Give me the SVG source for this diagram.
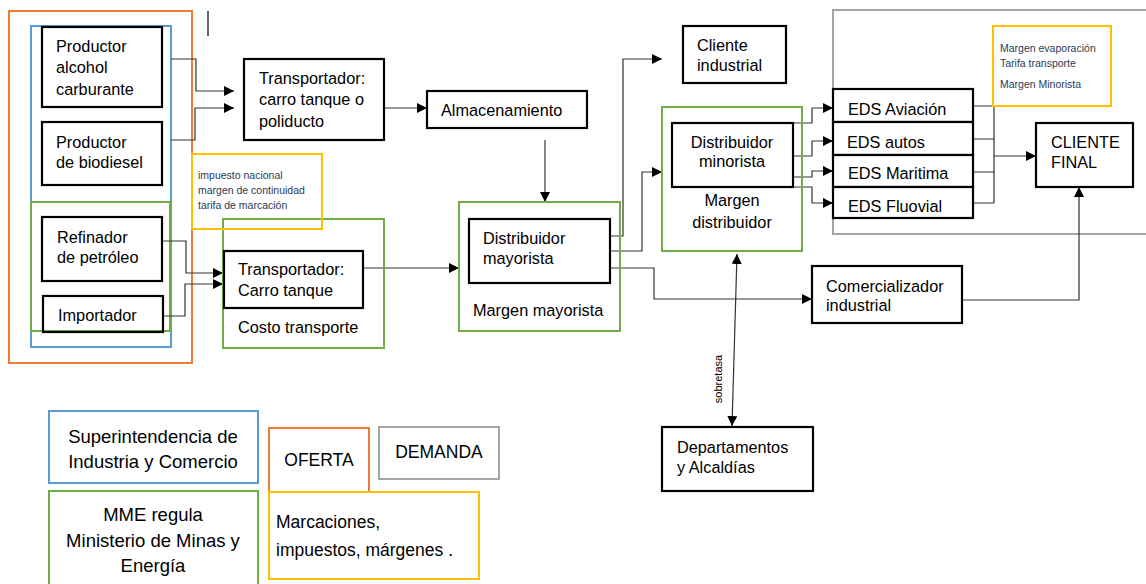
<svg xmlns="http://www.w3.org/2000/svg" width="1146" height="584" viewBox="0 0 1146 584">
<style>
.grp{fill:none;stroke-width:2}
.or{stroke:#ED7D31}.bl{stroke:#5B9BD5}.gr{stroke:#70AD47}.ye{stroke:#FFC000}.gy{stroke:#A5A5A5}
.node{fill:#fff;stroke:#000;stroke-width:2.2}
.nodeT{fill:none;stroke:#000;stroke-width:2.2}
.t{font-family:"Liberation Sans",Arial,sans-serif;font-size:16.3px;fill:#000}
.s{font-family:"Liberation Sans",Arial,sans-serif;font-size:10.5px;fill:#2b3a55}
.l{font-family:"Liberation Sans",Arial,sans-serif;font-size:18.5px;fill:#000}
.m{font-family:"Liberation Sans",Arial,sans-serif;font-size:17.5px;fill:#000}
.c{fill:none;stroke:#333;stroke-width:1.2}
</style>
<defs>
<marker id="ah" viewBox="0 0 10 10" refX="10" refY="5" markerWidth="10" markerHeight="10" markerUnits="userSpaceOnUse" orient="auto"><path d="M0,0 L10,5 L0,10 z" fill="#000"/></marker>
<marker id="ahs" viewBox="0 0 10 10" refX="10" refY="5" markerWidth="10" markerHeight="10" markerUnits="userSpaceOnUse" orient="auto-start-reverse"><path d="M0,0 L10,5 L0,10 z" fill="#000"/></marker>
</defs>
<rect width="1146" height="584" fill="#fff"/>

<!-- grouping frames -->
<g id="oferta-frame"><rect class="grp or" x="9" y="11" width="183" height="352"/></g>
<g id="sic-frame"><rect class="grp bl" x="31" y="26" width="140" height="321"/></g>
<g id="mme-frame-left"><rect class="grp gr" x="31" y="202" width="139" height="129"/></g>
<g id="demanda-frame"><rect class="grp gy" x="833" y="10" width="320" height="224"/></g>
<line x1="208" y1="11" x2="208" y2="36" stroke="#333" stroke-width="1.5"/>

<!-- connectors -->
<g id="connectors">
<path class="c" d="M171,59 H196 V91 H234" marker-end="url(#ah)"/>
<path class="c" d="M171,140 H195 V108 H234" marker-end="url(#ah)"/>
<path class="c" d="M162,241 H186 V273 H223" marker-end="url(#ah)"/>
<path class="c" d="M163,316 H185 V284 H223" marker-end="url(#ah)"/>
<path class="c" d="M384,108 H427" marker-end="url(#ah)"/>
<path class="c" d="M545,140 V202" marker-end="url(#ah)"/>
<path class="c" d="M363,268 H459" marker-end="url(#ah)"/>
<path class="c" d="M610,236 H623 V59 H662" marker-end="url(#ah)"/>
<path class="c" d="M610,251 H642 V172 H662" marker-end="url(#ah)"/>
<path class="c" d="M610,268 H654 V299 H812" marker-end="url(#ah)"/>
<path class="c" d="M793,123 H812 V108 H833" marker-end="url(#ah)"/>
<path class="c" d="M793,156 H812 V141 H833" marker-end="url(#ah)"/>
<path class="c" d="M793,177 H812 V171 H833" marker-end="url(#ah)"/>
<path class="c" d="M793,187 H812 V203 H833" marker-end="url(#ah)"/>
<path class="c" d="M973,106 H994 M973,139 H994 M973,172 H994 M973,203 H994 M994,106 V203"/>
<path class="c" d="M994,156 H1036" marker-end="url(#ah)"/>
<path class="c" d="M962,300 H1079 V187" marker-end="url(#ah)"/>
<path class="c" d="M737,254 L732,426" marker-start="url(#ahs)" marker-end="url(#ah)"/>
<text transform="translate(722,379) rotate(-90)" text-anchor="middle" style="font-family:'Liberation Sans',Arial,sans-serif;font-size:11px;fill:#000">sobretasa</text>
</g>

<!-- nodes -->
<g id="productor-alcohol"><rect class="nodeT" x="42" y="27" width="120" height="80"/>
<text class="t" x="56" y="52">Productor</text><text class="t" x="56" y="73">alcohol</text><text class="t" x="56" y="95">carburante</text></g>
<g id="productor-biodiesel"><rect class="nodeT" x="42" y="122" width="120" height="63"/>
<text class="t" x="56" y="148">Productor</text><text class="t" x="56" y="168">de biodiesel</text></g>
<g id="refinador"><rect class="nodeT" x="42" y="217" width="120" height="64"/>
<text class="t" x="57" y="243">Refinador</text><text class="t" x="57" y="263">de petróleo</text></g>
<g id="importador"><rect class="nodeT" x="43" y="296" width="120" height="36"/>
<text class="t" x="58" y="321">Importador</text></g>
<g id="transportador-poliducto"><rect class="node" x="244" y="59" width="140" height="81"/>
<text class="t" x="259" y="84">Transportador:</text><text class="t" x="259" y="105">carro tanque o</text><text class="t" x="259" y="127">poliducto</text></g>
<g id="costo-transporte"><rect class="grp gr" x="223" y="219" width="161" height="129"/>
<text class="t" x="238" y="333">Costo transporte</text></g>
<g id="nota-impuestos"><rect fill="#fff" class="grp ye" x="192" y="154" width="130" height="75"/>
<text class="s" x="198" y="179">impuesto nacional</text><text class="s" x="198" y="194">margen de continuidad</text><text class="s" x="198" y="209">tarifa de marcación</text></g>
<g id="transportador-carro"><rect class="node" x="224" y="251" width="139" height="57"/>
<text class="t" x="238" y="275">Transportador:</text><text class="t" x="238" y="296">Carro tanque</text></g>
<g id="almacenamiento"><rect class="node" x="427" y="91" width="160" height="37"/>
<text class="t" x="441" y="116">Almacenamiento</text></g>
<g id="margen-mayorista"><rect class="grp gr" x="459" y="202" width="161" height="129"/>
<text class="t" x="473" y="316">Margen mayorista</text></g>
<g id="distribuidor-mayorista"><rect class="node" x="469" y="219" width="141" height="64"/>
<text class="t" x="483" y="244">Distribuidor</text><text class="t" x="483" y="264">mayorista</text></g>
<g id="cliente-industrial"><rect class="node" x="683" y="26" width="103" height="57"/>
<text class="t" x="697" y="51">Cliente</text><text class="t" x="697" y="71">industrial</text></g>
<g id="margen-distribuidor"><rect class="grp gr" x="662" y="107" width="140" height="144"/>
<text class="t" x="732" y="206" text-anchor="middle">Margen</text><text class="t" x="732" y="228" text-anchor="middle">distribuidor</text></g>
<g id="distribuidor-minorista"><rect class="node" x="672" y="123" width="121" height="64"/>
<text class="t" x="732" y="148" text-anchor="middle">Distribuidor</text><text class="t" x="732" y="167" text-anchor="middle">minorista</text></g>
<g id="eds-aviacion"><rect class="node" x="833" y="89" width="140" height="33"/><text class="t" x="848" y="115">EDS Aviación</text></g>
<g id="eds-autos"><rect class="node" x="833" y="122" width="140" height="33"/><text class="t" x="847" y="148">EDS autos</text></g>
<g id="eds-maritima"><rect class="node" x="833" y="155" width="140" height="32"/><text class="t" x="848" y="179">EDS Maritima</text></g>
<g id="eds-fluovial"><rect class="node" x="833" y="187" width="140" height="31"/><text class="t" x="848" y="212">EDS Fluovial</text></g>
<g id="nota-margenes"><rect fill="#fff" class="grp ye" x="993" y="26" width="118" height="80"/>
<text class="s" x="1000" y="52">Margen evaporación</text><text class="s" x="1000" y="67">Tarifa transporte</text><text class="s" x="1000" y="88">Margen Minorista</text></g>
<g id="cliente-final"><rect class="node" x="1036" y="123" width="97" height="64"/>
<text class="t" x="1051" y="148">CLIENTE</text><text class="t" x="1051" y="168">FINAL</text></g>
<g id="comercializador"><rect class="node" x="812" y="266" width="150" height="57"/>
<text class="t" x="826" y="292">Comercializador</text><text class="t" x="826" y="311">industrial</text></g>
<g id="departamentos"><rect class="node" x="662" y="427" width="151" height="64"/>
<text class="t" x="677" y="453">Departamentos</text><text class="t" x="677" y="473">y Alcaldías</text></g>

<!-- legend -->
<g id="legend-sic"><rect class="grp bl" x="49" y="411" width="209" height="72"/>
<text class="l" x="153" y="443" text-anchor="middle">Superintendencia de</text><text class="l" x="153" y="468" text-anchor="middle">Industria y Comercio</text></g>
<g id="legend-mme"><rect class="grp gr" x="49" y="491" width="209" height="100"/>
<text class="l" x="153" y="521" text-anchor="middle">MME regula</text><text class="l" x="153" y="547" text-anchor="middle">Ministerio de Minas y</text><text class="l" x="153" y="572" text-anchor="middle">Energía</text></g>
<g id="legend-oferta"><rect class="grp or" x="269" y="428" width="100" height="64"/>
<text class="m" x="319" y="466" text-anchor="middle">OFERTA</text></g>
<g id="legend-demanda"><rect class="grp gy" x="379" y="427" width="120" height="52"/>
<text class="m" x="439" y="458" text-anchor="middle">DEMANDA</text></g>
<g id="legend-marcaciones"><rect class="grp ye" x="269" y="492" width="210" height="87"/>
<text class="m" x="276" y="528">Marcaciones,</text><text class="m" x="276" y="556">impuestos, márgenes .</text></g>
</svg>
